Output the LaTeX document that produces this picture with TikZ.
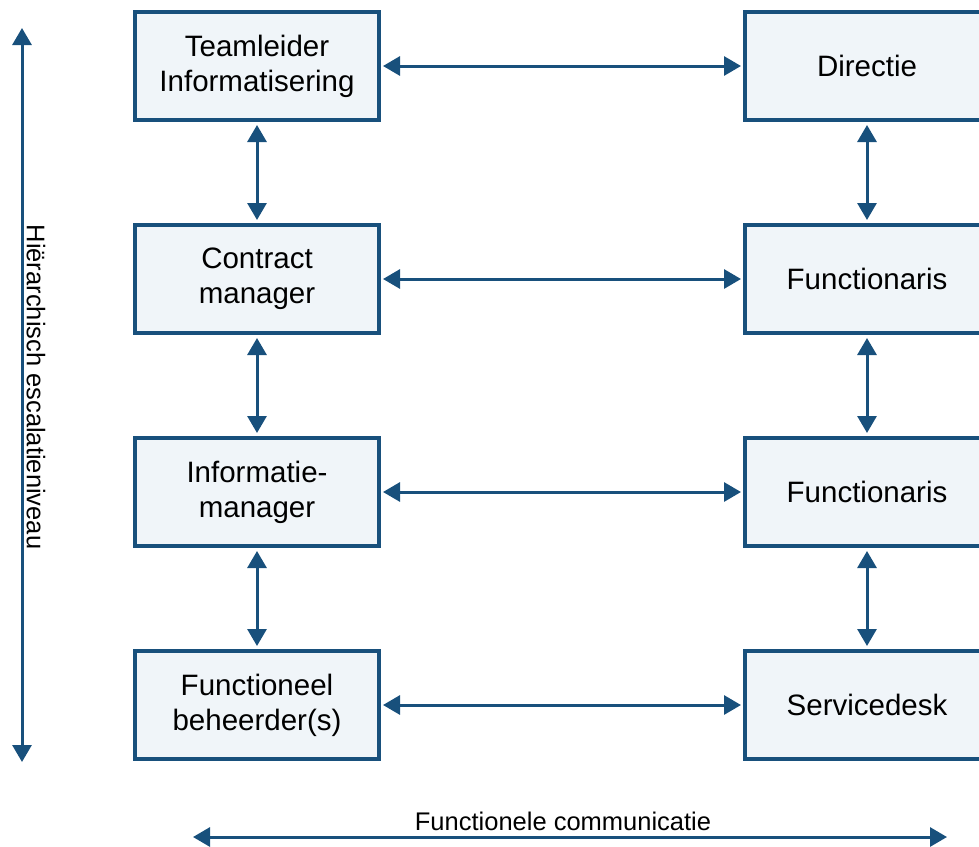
\documentclass[tikz,border=0pt]{standalone}
\usepackage{fontspec}
\setmainfont{Liberation Sans}
\usetikzlibrary{arrows.meta}
\definecolor{boxblue}{RGB}{24,80,124}
\definecolor{boxfill}{RGB}{240,245,249}
\tikzset{
  orgbox/.style={draw=boxblue, fill=boxfill, line width=4pt, minimum width=244pt, minimum height=108pt, inner sep=0pt, align=center, font=\fontsize{29.5}{35}\selectfont},
  link/.style={draw=boxblue, line width=3pt, {Triangle[length=17pt,width=19pt]}-{Triangle[length=17pt,width=19pt]}},
  hlink/.style={link, shorten <=2pt, shorten >=2pt},
  vlink/.style={link, shorten <=3pt, shorten >=3pt},
  axislabel/.style={font=\fontsize{25.5}{30}\selectfont, inner sep=0pt}
}
\begin{document}
\begin{tikzpicture}[x=1pt,y=-1pt]
\useasboundingbox (0,0) rectangle (979,846);
\begin{scope}
\clip (0,0) rectangle (979,846);
\node[orgbox] (l1) at (257,66) {Teamleider\\Informatisering};
\node[orgbox] (l2) at (257,279) {Contract\\manager};
\node[orgbox] (l3) at (257,492) {Informatie-\\manager};
\node[orgbox] (l4) at (257,705) {Functioneel\\beheerder(s)};
\node[orgbox] (r1) at (867,66) {Directie};
\node[orgbox] (r2) at (867,279) {Functionaris};
\node[orgbox] (r3) at (867,492) {Functionaris};
\node[orgbox] (r4) at (867,705) {Servicedesk};
\end{scope}
\draw[hlink] (l1.east) -- (r1.west);
\draw[hlink] (l2.east) -- (r2.west);
\draw[hlink] (l3.east) -- (r3.west);
\draw[hlink] (l4.east) -- (r4.west);
\draw[vlink] (l1.south) -- (l2.north);
\draw[vlink] (l2.south) -- (l3.north);
\draw[vlink] (l3.south) -- (l4.north);
\draw[vlink] (r1.south) -- (r2.north);
\draw[vlink] (r2.south) -- (r3.north);
\draw[vlink] (r3.south) -- (r4.north);
\coordinate (vtop) at (22,28);
\coordinate (vbot) at (22,762);
\draw[link] (vtop) -- (vbot);
\node[axislabel, rotate=-90] (vlabel) at (36,387) {Hiërarchisch escalatieniveau};
\coordinate (hleft) at (193,837);
\coordinate (hright) at (947,837);
\draw[link] (hleft) -- (hright);
\node[axislabel, anchor=base] (hlabel) at (563,830) {Functionele communicatie};
\end{tikzpicture}
\end{document}
